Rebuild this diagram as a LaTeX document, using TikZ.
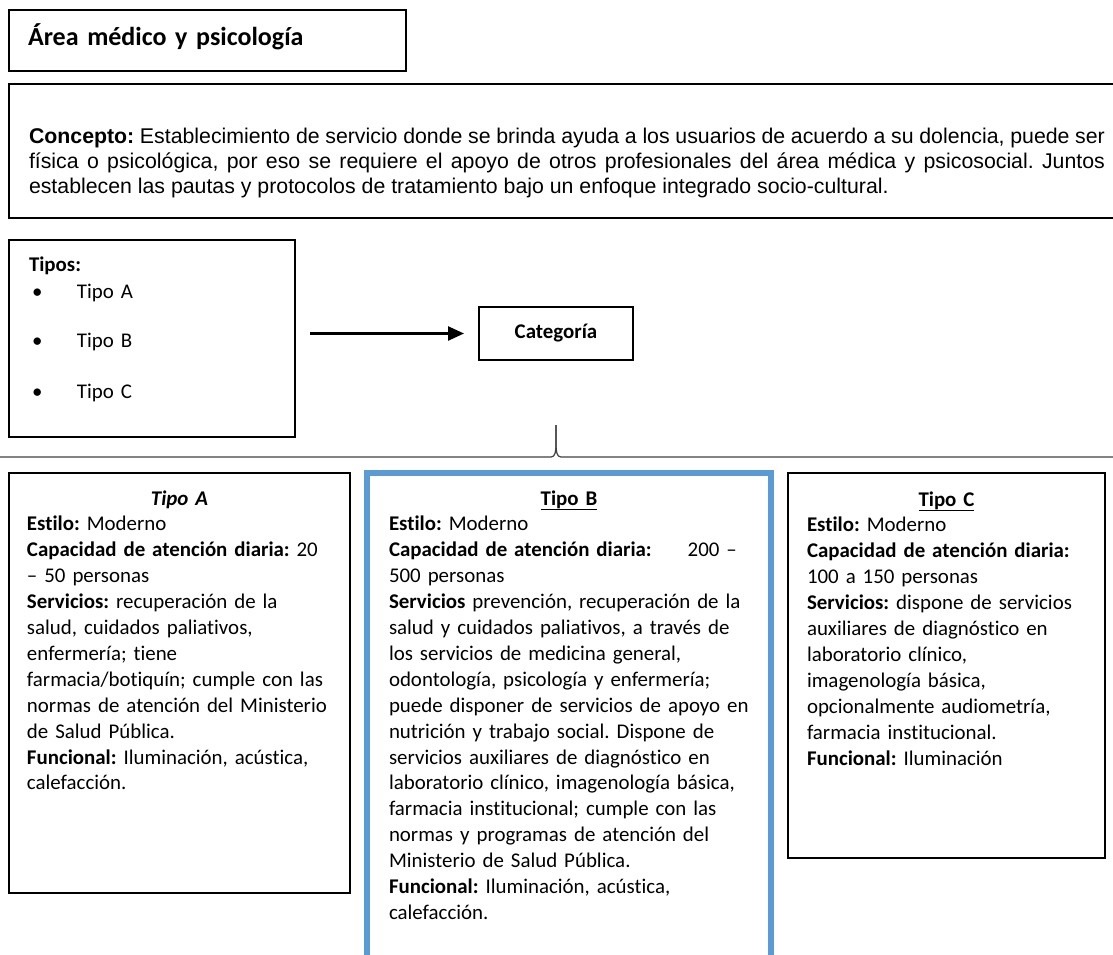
\documentclass[tikz,border=0pt]{standalone}
\usepackage{fontspec}
\setmainfont{Carlito}[RawFeature=-liga]
\newfontfamily\arialfont{Liberation Sans}
\usetikzlibrary{arrows.meta,positioning}
\definecolor{azulB}{HTML}{5B9BD5}
\tikzstyle{caja} = [draw, rectangle, anchor=north west, outer sep=0pt, inner ysep=0pt,
    align=left, line width=1.3pt, font=\fontsize{20.9pt}{25.9pt}\selectfont\frenchspacing]
\tikzstyle{flecha} = [-{Triangle[length=16pt,width=14pt]}, line width=2.5pt,
    shorten <=15pt, shorten >=15pt]
\tikzstyle{llave} = [black!75, line width=1.2pt]

\begin{document}
\begin{tikzpicture}[x=1pt, y=-1pt]
  \useasboundingbox (0,0) rectangle (1113,955);
  \node [caja, line width=2.5pt, text width=359pt, inner xsep=19pt, text height=36pt, text depth=25pt,
    font=\fontsize{26pt}{32pt}\selectfont\bfseries] (b11) at (9,10) {Área médico y psicología};
  \node [caja, line width=2pt, text width=1076pt, inner xsep=20pt, text height=59pt, text depth=75pt,
    align=justify, font=\arialfont\fontsize{21.3pt}{25pt}\selectfont\frenchspacing] (b21) at (9,84)
    {\textbf{Concepto:} Establecimiento de servicio donde se brinda ayuda a los usuarios de acuerdo a su dolencia, puede ser\linebreak
     física o psicológica, por eso se requiere el apoyo de otros profesionales del área médica y psicosocial. Juntos\linebreak
     establecen las pautas y protocolos de tratamiento bajo un enfoque integrado socio-cultural.};
  \node [caja, text width=246pt, inner xsep=20pt, text height=31pt, text depth=166pt,
    font=\fontsize{20.9pt}{27pt}\selectfont] (b31) at (9,240)
    {\textbf{Tipos:}\\
     \hspace*{3pt}\makebox[45pt][l]{\textbullet}Tipo A\\[22pt]
     \hspace*{3pt}\makebox[45pt][l]{\textbullet}Tipo B\\[24pt]
     \hspace*{3pt}\makebox[45pt][l]{\textbullet}Tipo C};
  \node [caja, anchor=center, minimum width=154pt, minimum height=53pt, inner sep=0pt,
    font=\fontsize{20.9pt}{25.9pt}\selectfont\bfseries] (b32) at (556,333.5) {Categoría};
  \draw [flecha] (b31.east |- b32.west) -- (b32.west);
  \coordinate (punta) at ([yshift=-65pt]b32.south);
  \draw [llave] (punta) -- ++(0,19) .. controls +(0,8) and +(4,0) .. ++(-5,13) -- (0,457);
  \draw [llave] (punta) -- ++(0,19) .. controls +(0,8) and +(-4,0) .. ++(5,13) -- (1113,457);
  \node [caja, text width=305pt, inner xsep=18pt, text height=32pt, text depth=388pt] (b41) at (9,473)
    {\makebox[\linewidth]{\textbf{\textit{Tipo A}}}\\
     \textbf{Estilo:} Moderno\\
     \textbf{Capacidad de atención diaria:} 20\\
     – 50 personas\\
     \textbf{Servicios:} recuperación de la\\
     salud, cuidados paliativos,\\
     enfermería; tiene\\
     farmacia/botiquín; cumple con las\\
     normas de atención del Ministerio\\
     de Salud Pública.\\
     \textbf{Funcional:} Iluminación, acústica,\\
     calefacción.};
  \node [caja, draw=azulB, line width=6pt, text width=360pt, inner xsep=22pt, text height=32pt, text depth=470pt] (b42) at (367,473)
    {\makebox[\linewidth]{\underline{\textbf{Tipo B}}}\\
     \textbf{Estilo:} Moderno\\
     \textbf{Capacidad de atención diaria:}\hspace{36pt}200 –\\
     500 personas\\
     \textbf{Servicios} prevención, recuperación de la\\
     salud y cuidados paliativos, a través de\\
     los servicios de medicina general,\\
     odontología, psicología y enfermería;\\
     puede disponer de servicios de apoyo en\\
     nutrición y trabajo social. Dispone de\\
     servicios auxiliares de diagnóstico en\\
     laboratorio clínico, imagenología básica,\\
     farmacia institucional; cumple con las\\
     normas y programas de atención del\\
     Ministerio de Salud Pública.\\
     \textbf{Funcional:} Iluminación, acústica,\\
     calefacción.};
  \node [caja, line width=2pt, text width=279pt, inner xsep=19pt, text height=33pt, text depth=352pt] (b43) at (788,473)
    {\makebox[\linewidth]{\underline{\textbf{Tipo C}}}\\
     \textbf{Estilo:} Moderno\\
     \textbf{Capacidad de atención diaria:}\\
     100 a 150 personas\\
     \textbf{Servicios:} dispone de servicios\\
     auxiliares de diagnóstico en\\
     laboratorio clínico,\\
     imagenología básica,\\
     opcionalmente audiometría,\\
     farmacia institucional.\\
     \textbf{Funcional:} Iluminación};
\end{tikzpicture}
\end{document}
